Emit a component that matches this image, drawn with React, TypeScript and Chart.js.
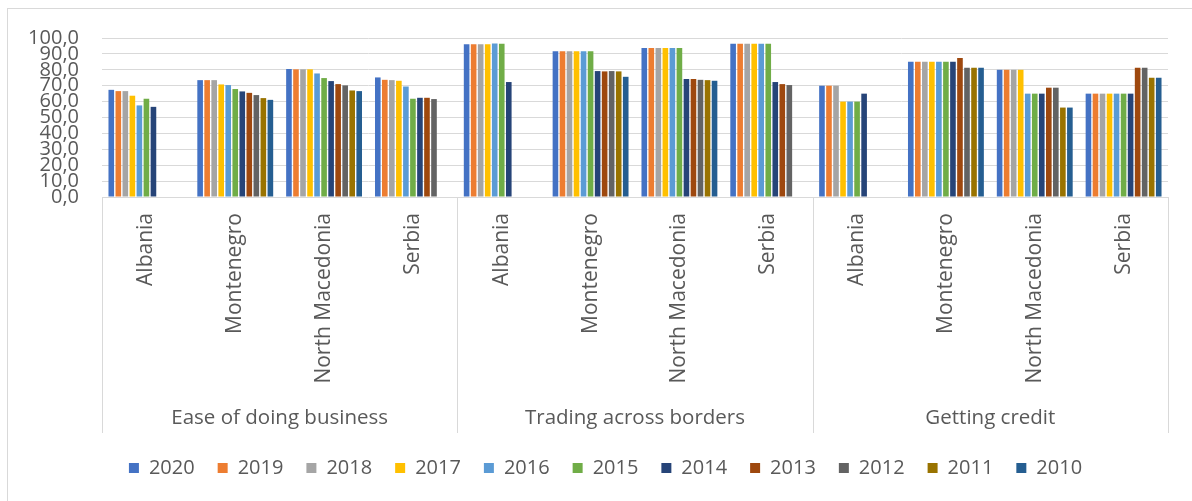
import React, { useEffect, useRef } from "react";
import { Chart, registerables } from "chart.js";

Chart.register(...registerables);

const countries = [
  "Albania", "Montenegro", "North Macedonia", "Serbia",
  "Albania", "Montenegro", "North Macedonia", "Serbia",
  "Albania", "Montenegro", "North Macedonia", "Serbia",
];
const groups = ["Ease of doing business", "Trading across borders", "Getting credit"];
const years = ["2020", "2019", "2018", "2017", "2016", "2015", "2014", "2013", "2012", "2011", "2010"];
const colors = ["#4472C4", "#ED7D31", "#A5A5A5", "#FFC000", "#5B9BD5", "#70AD47", "#264478", "#9E480E", "#636363", "#997300", "#255E91"];

const v2020 = [67.4, 73.5, 80.5, 75.2, 96.0, 91.6, 93.7, 96.4, 70, 85, 80, 65];
const v2019 = [66.6, 73.5, 80.3, 73.7, 96.0, 91.6, 93.7, 96.4, 70, 85, 80, 65];
const v2018 = [66.6, 73.5, 80.3, 73.5, 96.0, 91.6, 93.7, 96.4, 70, 85, 80, 65];
const v2017 = [63.7, 70.8, 80.3, 73.1, 96.0, 91.6, 93.7, 96.4, 60, 85, 80, 65];
const v2016 = [57.6, 70.4, 77.7, 69.5, 96.6, 91.6, 93.7, 96.4, 60, 85, 65, 65];
const v2015 = [61.8, 67.9, 74.8, 61.8, 96.4, 91.6, 93.7, 96.4, 60, 85, 65, 65];
const v2014 = [56.7, 66.4, 72.9, 62.4, 72.3, 79.2, 74.2, 72.3, 65, 85, 65, 65];
const v2013 = [null, 65.5, 71.0, 62.4, null, 79.0, 74.2, 71.0, null, 87.5, 68.75, 81.25];
const v2012 = [null, 64.1, 70.2, 61.6, null, 79.2, 73.7, 70.4, null, 81.25, 68.75, 81.25];
const v2011 = [null, 62.2, 67.0, null, null, 79.0, 73.5, null, null, 81.25, 56.25, 75];
const v2010 = [null, 61.1, 66.6, null, null, 75.6, 73.1, null, null, 81.25, 56.25, 75];

const seriesValues = [v2020, v2019, v2018, v2017, v2016, v2015, v2014, v2013, v2012, v2011, v2010];

const FONT = "'Open Sans', 'DejaVu Sans', sans-serif";
const TEXT = "#595959";
const GRID = "#d9d9d9";

const groupAxisPlugin = {
  id: "groupAxis",
  afterLayout(chart: any) {
    const lg = chart.legend;
    if (lg) {
      lg.left += 10;
      lg.right += 10;
      lg.top += 2;
      lg.bottom += 2;
    }
  },
  afterDraw(chart: any) {
    const { ctx, chartArea, scales } = chart;
    const xs = scales.x;
    const n = countries.length;
    const per = n / groups.length;
    const w = (xs.right - xs.left) / n;
    ctx.save();
    ctx.strokeStyle = GRID;
    ctx.lineWidth = 1;
    for (let k = 0; k <= groups.length; k++) {
      const x = Math.round(xs.left + k * per * w) + 0.5;
      ctx.beginPath();
      ctx.moveTo(x, chartArea.bottom);
      ctx.lineTo(x, xs.bottom);
      ctx.stroke();
    }
    ctx.fillStyle = TEXT;
    ctx.font = `21px ${FONT}`;
    ctx.textAlign = "right";
    ctx.textBaseline = "middle";
    countries.forEach((lab, i) => {
      const x = xs.getPixelForValue(i);
      ctx.save();
      ctx.translate(x, chartArea.bottom + 16);
      ctx.rotate(-Math.PI / 2);
      ctx.fillText(lab, 0, 0);
      ctx.restore();
    });
    ctx.textAlign = "center";
    ctx.font = `20.5px ${FONT}`;
    groups.forEach((g, k) => {
      ctx.fillText(g, xs.left + (k * per + per / 2) * w, xs.bottom - 15);
    });
    ctx.restore();
  },
};

export default function App() {
  const ref = useRef<HTMLCanvasElement>(null);
  useEffect(() => {
    if (!ref.current) return;
    const chart = new Chart(ref.current, {
      type: "bar",
      data: {
        labels: countries.map((c, i) => `${c}-${i}`),
        datasets: years.map((y, i) => ({
          label: y,
          data: seriesValues[i],
          backgroundColor: colors[i],
          borderWidth: 0,
          barPercentage: 0.8,
          categoryPercentage: 0.87,
        })),
      },
      options: {
        responsive: false,
        animation: false,
        layout: { padding: { left: 23, right: 24, top: 38, bottom: 15 } },
        scales: {
          x: {
            grid: { display: false },
            border: { display: false },
            ticks: { display: false },
            afterFit: (scale: any) => {
              scale.height = 236;
            },
          },
          y: {
            min: 0,
            max: 100,
            border: { display: false },
            grid: { color: GRID, lineWidth: 1, drawTicks: false },
            ticks: {
              stepSize: 10,
              autoSkip: false,
              padding: 23,
              color: TEXT,
              font: { size: 20, family: FONT },
              callback: (v: any) => Number(v).toFixed(1).replace(".", ","),
            },
            afterFit: (scale: any) => {
              scale.width = 79;
            },
          },
        },
        plugins: {
          legend: {
            position: "bottom",
            labels: {
              boxWidth: 10,
              boxHeight: 10,
              padding: 23,
              color: TEXT,
              font: { size: 20, family: FONT },
            },
          },
          tooltip: { enabled: false },
        },
      },
      plugins: [groupAxisPlugin],
    });
    return () => chart.destroy();
  }, []);

  return (
    <div style={{ position: "fixed", left: 0, top: 0, width: 1192, height: 501, overflow: "hidden", background: "#fff" }}>
      <div style={{ position: "absolute", left: 7, top: 8, width: 1200, height: 600, border: `1px solid ${GRID}` }} />
      <canvas ref={ref} width={1192} height={501} style={{ position: "absolute", left: 0, top: 0, width: 1192, height: 501 }} />
    </div>
  );
}
